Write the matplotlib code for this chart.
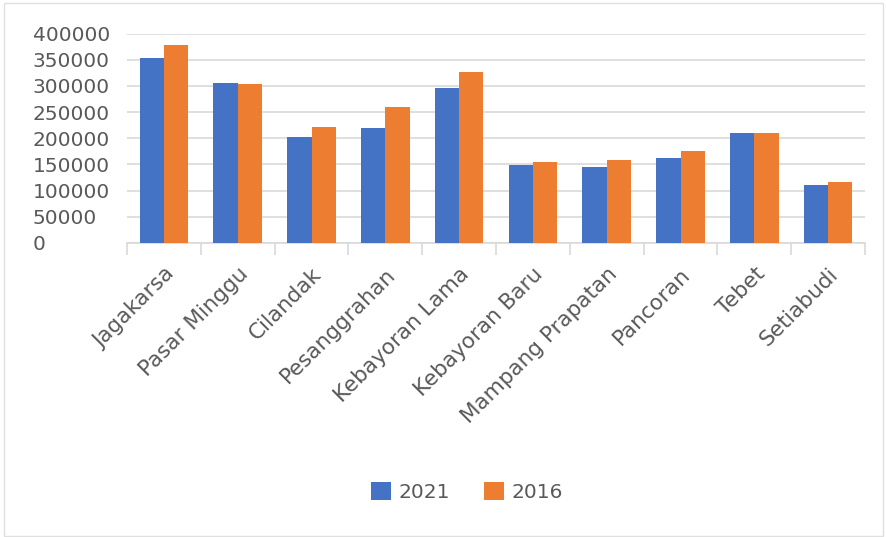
import numpy as np
import matplotlib
matplotlib.use("Agg")
from matplotlib import pyplot as plt
from matplotlib.patches import Rectangle

districts = ["Jagakarsa", "Pasar Minggu", "Cilandak", "Pesanggrahan", "Kebayoran Lama",
             "Kebayoran Baru", "Mampang Prapatan", "Pancoran", "Tebet", "Setiabudi"]
pop_2021 = [354000, 306000, 202000, 220000, 296000, 148000, 145000, 163000, 209500, 110000]
pop_2016 = [378000, 304000, 221500, 260000, 327000, 155000, 158000, 176000, 210700, 116000]
y_ticks = [0, 50000, 100000, 150000, 200000, 250000, 300000, 350000, 400000]

blue = "#4472c4"
orange = "#ed7d31"
text_gray = "#595959"
grid_gray = "#d9d9d9"

W, H = 887, 537
fig = plt.figure(figsize=(W / 100, H / 100), dpi=100)
ax = fig.add_axes([127 / W, 1 - 243 / H, (865 - 127) / W, (243 - 33.5) / H])

x = np.arange(len(districts))
bw = 0.33
ax.bar(x - bw / 2, pop_2021, bw, color=blue, label="2021", zorder=3)
ax.bar(x + bw / 2, pop_2016, bw, color=orange, label="2016", zorder=3)

ax.set_xlim(-0.5, len(districts) - 0.5)
ax.set_ylim(0, 400000)
ax.set_yticks(y_ticks)
ax.set_yticklabels([str(v) for v in y_ticks])
ax.yaxis.grid(True, color=grid_gray, linewidth=1.2, zorder=0)

for s in ["top", "right", "left"]:
    ax.spines[s].set_visible(False)
ax.spines["bottom"].set_color(grid_gray)
ax.spines["bottom"].set_linewidth(1.2)

# category boundary ticks
ax.set_xticks(np.arange(len(districts) + 1) - 0.5)
ax.set_xticklabels([])
ax.tick_params(axis="x", which="major", length=8.6, width=1.2, color=grid_gray)
ax.set_xticks(x, minor=True)
ax.set_xticklabels(districts, minor=True, rotation=45, ha="right", va="top",
                   rotation_mode="anchor", fontsize=15.5, color=text_gray)
ax.tick_params(axis="x", which="minor", length=0, pad=15)

ax.tick_params(axis="y", length=0, pad=68, labelsize=14.5, labelcolor=text_gray)
for lab in ax.get_yticklabels():
    lab.set_horizontalalignment("left")

fig.legend(loc="center", bbox_to_anchor=(467 / W, 1 - 492 / H), ncol=2, frameon=False,
           fontsize=14.5, labelcolor=text_gray, handlelength=1.0, handleheight=1.0,
           handletextpad=0.35, columnspacing=1.7)

fig.patches.append(Rectangle((4 / W, 1 / H), (W - 8) / W, (H - 4) / H, transform=fig.transFigure,
                             fill=False, edgecolor="#e0e0e0", linewidth=1))

fig.savefig("out.png", dpi=100, facecolor="white")
